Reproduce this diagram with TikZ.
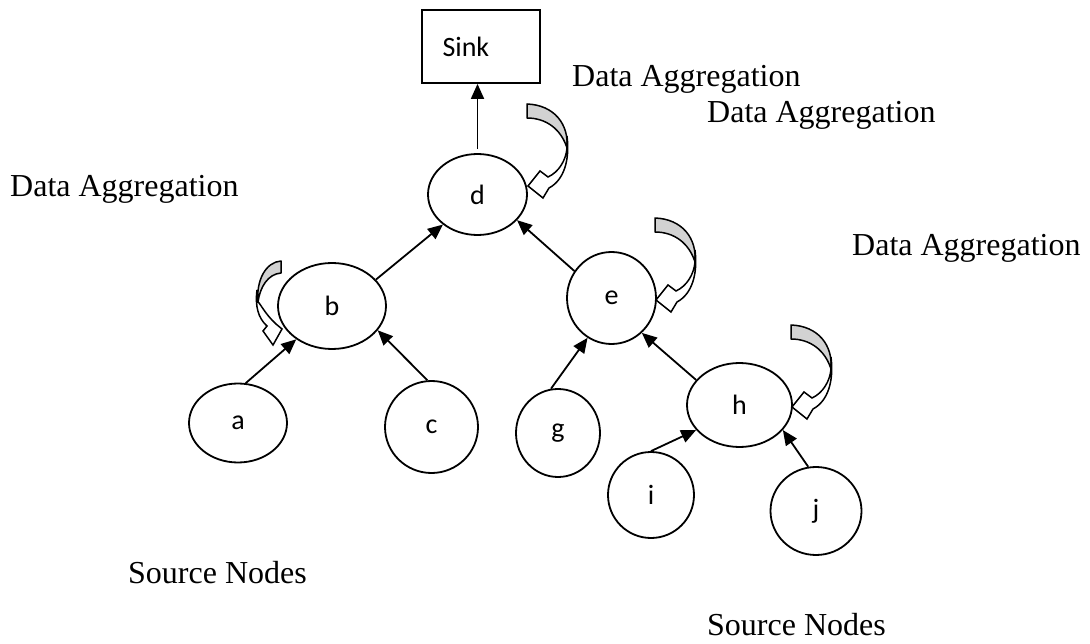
\documentclass[tikz,border=0pt]{standalone}
\usepackage{fontspec}
\setmainfont{Liberation Serif}
\newfontfamily\calib{Carlito}
\usetikzlibrary{shapes.geometric,arrows.meta}
\newcommand{\aggarrow}[2]{%
  \begin{scope}[shift={(#1,#2)}]
    \path[back] (-1,-82) .. controls (26,-81) and (41,-62) .. (39,-38)
      .. controls (33,-57) and (18,-68) .. (-1,-68) -- cycle;
    \path[front] (39,-50) .. controls (42,-26) and (36,-6) .. (21,2)
      -- (15,12) -- (0,0) -- (12,-15) -- (20,-9)
      .. controls (31,-14) and (38,-26) .. (39,-38) -- cycle;
  \end{scope}}
\begin{document}
\begin{tikzpicture}[x=1pt,y=-1pt,
  circ/.style={ellipse,draw,line width=1.8pt,inner sep=0pt,font=\calib\fontsize{28}{32}\selectfont},
  arr/.style={line width=1.8pt,-{Triangle[length=15pt,width=13pt]}},
  lbl/.style={font=\fontsize{32}{38}\selectfont,anchor=base west,inner sep=0pt},
  back/.style={draw,line width=1.5pt,fill=gray!35,line join=round},
  front/.style={draw,line width=1.5pt,fill=white,line join=miter}]
\useasboundingbox (0,0) rectangle (1090,644);

\node[draw,line width=1.8pt,text width=77pt,inner xsep=20.5pt,minimum height=73pt,align=left,
  font=\calib\fontsize{28}{32}\selectfont] (sink) at (481,46.5) {Sink\\[4pt]};

\node[circ,minimum width=99pt,minimum height=81pt] (d) at (477.5,194.5) {d};
\node[circ,minimum width=108pt,minimum height=86pt] (b) at (332,306) {b};
\node[circ,minimum width=89pt,minimum height=92pt] (e) at (611.5,298) {e};
\node[circ,minimum width=98pt,minimum height=79pt] (a) at (238,423) {a};
\node[circ,minimum width=93pt,minimum height=92pt] (c) at (431.5,427) {c};
\node[circ,minimum width=84pt,minimum height=88pt] (g) at (558,433) {g};
\node[circ,minimum width=105pt,minimum height=84pt] (h) at (739.5,405) {h};
\node[circ,minimum width=86pt,minimum height=86pt] (i) at (651,495) {i};
\node[circ,minimum width=91pt,minimum height=88pt] (j) at (816,511) {j};

\draw[arr,shorten <=4pt] (d.north) -- (d.north |- sink.south);
\draw[arr] (b.31) -- (d.221);
\draw[arr] (e.144) -- (d.327);
\draw[arr] (a.79) -- (b.223);
\draw[arr] (c.95) -- (b.332);
\draw[arr] (g.99) -- (e.239);
\draw[arr] (h.150) -- (e.311);
\draw[arr] (i.90) -- (h.210);
\draw[arr] (j.100) -- (h.330);

\aggarrow{528}{186}
\aggarrow{656}{300}
\aggarrow{792}{407}

% curved arrow near b
\path[back] (281,261) .. controls (266,262) and (256,280) .. (258,302)
  .. controls (260,287) and (268,274) .. (281,273) -- cycle;
\path[front] (257,290) .. controls (255,306) and (258,318) .. (267,326)
  -- (263,331) -- (273,345) -- (282,329) -- (276,324)
  .. controls (265,314) and (260,303) .. (258,302) -- cycle;

\node[lbl] (da1) at (572,87) {Data Aggregation};
\node[lbl] (da2) at (707,123) {Data Aggregation};
\node[lbl] (da3) at (10,197) {Data Aggregation};
\node[lbl] (da4) at (852,256) {Data Aggregation};
\node[lbl] (sn1) at (128,583) {Source Nodes};
\node[lbl] (sn2) at (707,635) {Source Nodes};
\end{tikzpicture}
\end{document}
